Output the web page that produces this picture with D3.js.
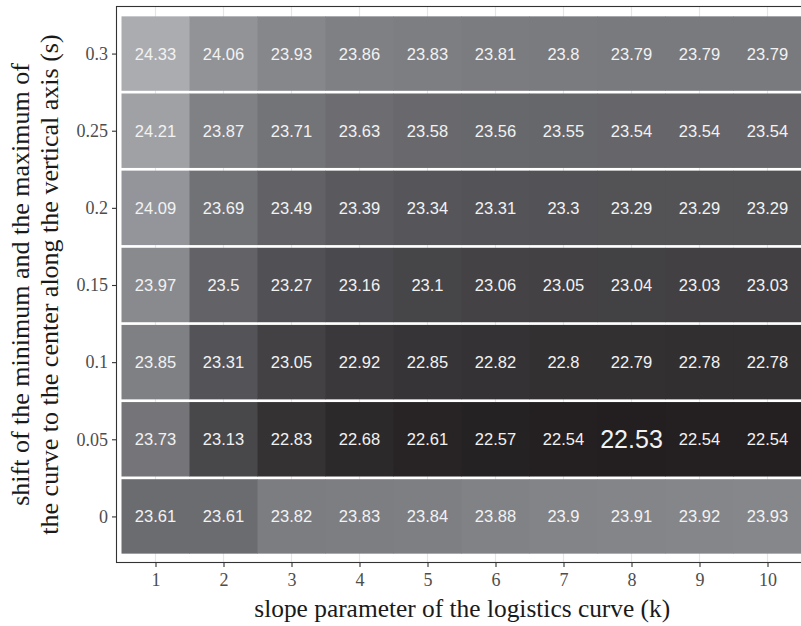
<!DOCTYPE html>
<html lang="en">
  <head>
    <meta charset="utf-8" />
    <style>
      body { margin: 0; background: #ffffff; }
    </style>
  </head>
  <body>
    <script type="text/javascript" src="https://d3js.org/d3.v7.min.js"></script>
    <script>
      var width = 801,
        height = 626;

      var serif = "'Liberation Serif', 'Times New Roman', serif";
      var sans = "'Liberation Sans', Arial, sans-serif";

      // slope parameter (k) and shift (s)
      var kValues = [1, 2, 3, 4, 5, 6, 7, 8, 9, 10];
      var sValues = [0, 0.05, 0.1, 0.15, 0.2, 0.25, 0.3];

      // one row of results for each s
      var row_s000 = [23.61, 23.61, 23.82, 23.83, 23.84, 23.88, 23.9, 23.91, 23.92, 23.93];
      var row_s005 = [23.73, 23.13, 22.83, 22.68, 22.61, 22.57, 22.54, 22.53, 22.54, 22.54];
      var row_s010 = [23.85, 23.31, 23.05, 22.92, 22.85, 22.82, 22.8, 22.79, 22.78, 22.78];
      var row_s015 = [23.97, 23.5, 23.27, 23.16, 23.1, 23.06, 23.05, 23.04, 23.03, 23.03];
      var row_s020 = [24.09, 23.69, 23.49, 23.39, 23.34, 23.31, 23.3, 23.29, 23.29, 23.29];
      var row_s025 = [24.21, 23.87, 23.71, 23.63, 23.58, 23.56, 23.55, 23.54, 23.54, 23.54];
      var row_s030 = [24.33, 24.06, 23.93, 23.86, 23.83, 23.81, 23.8, 23.79, 23.79, 23.79];

      var rows = [row_s000, row_s005, row_s010, row_s015, row_s020, row_s025, row_s030];

      // flatten to cells
      var cells = [];
      sValues.forEach(function (s, i) {
        kValues.forEach(function (k, j) {
          cells.push({ k: k, s: s, value: rows[i][j] });
        });
      });
      var minValue = d3.min(cells, function (d) { return d.value; });

      var svg = d3
        .select("body")
        .append("svg")
        .attr("width", width)
        .attr("height", height);

      var x = d3.scaleLinear().domain([0.5, 10.5]).range([121.5, 801.5]);
      var y = d3.scaleLinear().domain([-0.025, 0.325]).range([555, 15]);

      var panel = { left: 116.5, top: 6.5, right: 808, bottom: 562.5 };

      var fill = d3
        .scaleLinear()
        .domain([22.53, 23.31, 23.81, 24.33])
        .range(["#231f20", "#545458", "#7b7c80", "#abacb0"])
        .interpolate(d3.interpolateLab);

      // panel background and grid
      svg
        .append("rect")
        .attr("x", panel.left)
        .attr("y", panel.top)
        .attr("width", panel.right - panel.left)
        .attr("height", panel.bottom - panel.top)
        .attr("fill", "#ffffff");

      svg
        .append("g")
        .selectAll("line")
        .data(kValues)
        .join("line")
        .attr("x1", function (d) { return x(d); })
        .attr("x2", function (d) { return x(d); })
        .attr("y1", panel.top)
        .attr("y2", panel.bottom)
        .attr("stroke", "#e6e6e6")
        .attr("stroke-width", 1.2);

      // tiles, with a small gap between the rows
      var gap = 2.7;
      var bandW = x(1.5) - x(0.5);
      var bandH = y(0) - y(0.05);

      svg
        .append("g")
        .selectAll("rect")
        .data(cells)
        .join("rect")
        .attr("x", function (d) { return x(d.k - 0.5); })
        .attr("y", function (d) { return y(d.s + 0.025) + gap / 2; })
        .attr("width", bandW + 0.5)
        .attr("height", bandH - gap)
        .attr("fill", function (d) { return fill(d.value); });

      svg
        .append("g")
        .selectAll("text")
        .data(cells)
        .join("text")
        .attr("x", function (d) { return x(d.k); })
        .attr("y", function (d) { return y(d.s); })
        .attr("text-anchor", "middle")
        .attr("dy", "0.36em")
        .style("font-family", sans)
        .attr("font-size", function (d) { return d.value === minValue ? 25 : 16.5; })
        .attr("fill", "#f2f2f2")
        .text(function (d) { return d.value; });

      // panel border
      svg
        .append("rect")
        .attr("x", panel.left)
        .attr("y", panel.top)
        .attr("width", panel.right - panel.left)
        .attr("height", panel.bottom - panel.top)
        .attr("fill", "none")
        .attr("stroke", "#333333")
        .attr("stroke-width", 1.1);

      // axes
      var xAxis = svg
        .append("g")
        .attr("transform", "translate(0," + panel.bottom + ")")
        .call(d3.axisBottom(x).tickValues(kValues).tickSize(4.5).tickPadding(6).tickFormat(d3.format("d")));

      var yAxis = svg
        .append("g")
        .attr("transform", "translate(" + panel.left + ",0)")
        .call(d3.axisLeft(y).tickValues(sValues).tickSize(4.5).tickPadding(4).tickFormat(function (d) { return String(d); }));

      [xAxis, yAxis].forEach(function (a) {
        a.select(".domain").remove();
        a.selectAll("line").attr("stroke", "#333333").attr("stroke-width", 1.1);
        a.selectAll("text")
          .style("font-family", serif)
          .style("font-size", "18px")
          .attr("fill", "#4d4d4d");
      });

      // axis titles
      svg
        .append("text")
        .attr("x", (panel.left + panel.right) / 2)
        .attr("y", 617)
        .attr("text-anchor", "middle")
        .style("font-family", serif)
        .style("font-size", "25.4px")
        .attr("fill", "#1a1a1a")
        .text("slope parameter of the logistics curve (k)");

      var yTitle = svg
        .append("text")
        .attr("transform", "translate(29," + (panel.top + panel.bottom) / 2 + ") rotate(-90)")
        .attr("text-anchor", "middle")
        .style("font-family", serif)
        .style("font-size", "26px")
        .attr("fill", "#1a1a1a");
      yTitle.append("tspan").attr("x", 0).attr("y", 0).text("shift of the minimum and the maximum of");
      yTitle.append("tspan").attr("x", 0).attr("y", 29).text("the curve to the center along the vertical axis (s)");
    </script>
  </body>
</html>
